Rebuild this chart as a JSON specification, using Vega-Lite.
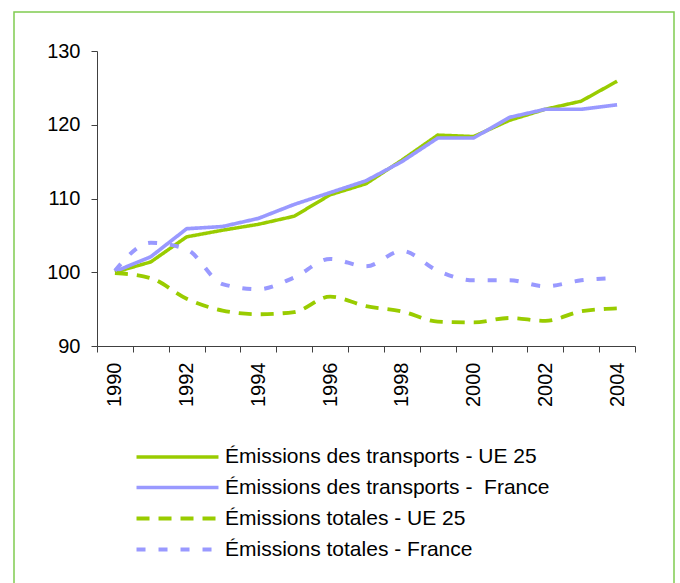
{
  "$schema": "https://vega.github.io/schema/vega-lite/v6.json",
  "autosize": {"type": "none"},
  "width": 660,
  "height": 580,
  "padding": {"left": 14, "top": 12, "right": 6, "bottom": 0},
  "background": "white",
  "config": {
    "view": {"stroke": "#80cc50", "strokeWidth": 1.5},
    "font": "Liberation Sans",
    "axis": {"grid": false, "domainColor": "#404040", "tickColor": "#404040", "labelColor": "black", "labelFont": "Liberation Sans", "labelFontSize": 20, "tickSize": 6, "title": null},
    "legend": {"orient": "none", "legendX": 151, "legendY": 433, "title": null, "symbolType": "M-4,0H4", "symbolSize": 420, "symbolStrokeWidth": 4, "labelFontSize": 21, "labelFont": "Liberation Sans", "labelColor": "black", "labelOffset": 35, "rowPadding": 8, "labelLimit": 500}
  },
  "data": {"values": [
    {"year": 1990, "value": 100.0, "series": "Émissions des transports - UE 25"},
    {"year": 1991, "value": 101.4, "series": "Émissions des transports - UE 25"},
    {"year": 1992, "value": 104.8, "series": "Émissions des transports - UE 25"},
    {"year": 1993, "value": 105.7, "series": "Émissions des transports - UE 25"},
    {"year": 1994, "value": 106.5, "series": "Émissions des transports - UE 25"},
    {"year": 1995, "value": 107.6, "series": "Émissions des transports - UE 25"},
    {"year": 1996, "value": 110.5, "series": "Émissions des transports - UE 25"},
    {"year": 1997, "value": 112.0, "series": "Émissions des transports - UE 25"},
    {"year": 1998, "value": 115.2, "series": "Émissions des transports - UE 25"},
    {"year": 1999, "value": 118.6, "series": "Émissions des transports - UE 25"},
    {"year": 2000, "value": 118.4, "series": "Émissions des transports - UE 25"},
    {"year": 2001, "value": 120.6, "series": "Émissions des transports - UE 25"},
    {"year": 2002, "value": 122.1, "series": "Émissions des transports - UE 25"},
    {"year": 2003, "value": 123.2, "series": "Émissions des transports - UE 25"},
    {"year": 2004, "value": 125.9, "series": "Émissions des transports - UE 25"},
    {"year": 1990, "value": 100.1, "series": "Émissions des transports - \u00a0France"},
    {"year": 1991, "value": 102.1, "series": "Émissions des transports - \u00a0France"},
    {"year": 1992, "value": 105.9, "series": "Émissions des transports - \u00a0France"},
    {"year": 1993, "value": 106.2, "series": "Émissions des transports - \u00a0France"},
    {"year": 1994, "value": 107.3, "series": "Émissions des transports - \u00a0France"},
    {"year": 1995, "value": 109.2, "series": "Émissions des transports - \u00a0France"},
    {"year": 1996, "value": 110.8, "series": "Émissions des transports - \u00a0France"},
    {"year": 1997, "value": 112.4, "series": "Émissions des transports - \u00a0France"},
    {"year": 1998, "value": 115.0, "series": "Émissions des transports - \u00a0France"},
    {"year": 1999, "value": 118.2, "series": "Émissions des transports - \u00a0France"},
    {"year": 2000, "value": 118.2, "series": "Émissions des transports - \u00a0France"},
    {"year": 2001, "value": 121.0, "series": "Émissions des transports - \u00a0France"},
    {"year": 2002, "value": 122.1, "series": "Émissions des transports - \u00a0France"},
    {"year": 2003, "value": 122.1, "series": "Émissions des transports - \u00a0France"},
    {"year": 2004, "value": 122.7, "series": "Émissions des transports - \u00a0France"},
    {"year": 1990, "value": 99.9, "series": "Émissions totales - UE 25"},
    {"year": 1991, "value": 99.2, "series": "Émissions totales - UE 25"},
    {"year": 1992, "value": 96.4, "series": "Émissions totales - UE 25"},
    {"year": 1993, "value": 94.8, "series": "Émissions totales - UE 25"},
    {"year": 1994, "value": 94.3, "series": "Émissions totales - UE 25"},
    {"year": 1995, "value": 94.6, "series": "Émissions totales - UE 25"},
    {"year": 1996, "value": 96.7, "series": "Émissions totales - UE 25"},
    {"year": 1997, "value": 95.4, "series": "Émissions totales - UE 25"},
    {"year": 1998, "value": 94.7, "series": "Émissions totales - UE 25"},
    {"year": 1999, "value": 93.3, "series": "Émissions totales - UE 25"},
    {"year": 2000, "value": 93.2, "series": "Émissions totales - UE 25"},
    {"year": 2001, "value": 93.8, "series": "Émissions totales - UE 25"},
    {"year": 2002, "value": 93.4, "series": "Émissions totales - UE 25"},
    {"year": 2003, "value": 94.7, "series": "Émissions totales - UE 25"},
    {"year": 2004, "value": 95.1, "series": "Émissions totales - UE 25"},
    {"year": 1990, "value": 100.2, "series": "Émissions totales - France"},
    {"year": 1991, "value": 104.0, "series": "Émissions totales - France"},
    {"year": 1992, "value": 103.1, "series": "Émissions totales - France"},
    {"year": 1993, "value": 98.4, "series": "Émissions totales - France"},
    {"year": 1994, "value": 97.7, "series": "Émissions totales - France"},
    {"year": 1995, "value": 99.3, "series": "Émissions totales - France"},
    {"year": 1996, "value": 101.8, "series": "Émissions totales - France"},
    {"year": 1997, "value": 100.8, "series": "Émissions totales - France"},
    {"year": 1998, "value": 102.9, "series": "Émissions totales - France"},
    {"year": 1999, "value": 100.2, "series": "Émissions totales - France"},
    {"year": 2000, "value": 98.9, "series": "Émissions totales - France"},
    {"year": 2001, "value": 98.9, "series": "Émissions totales - France"},
    {"year": 2002, "value": 98.1, "series": "Émissions totales - France"},
    {"year": 2003, "value": 98.9, "series": "Émissions totales - France"},
    {"year": 2004, "value": 99.2, "series": "Émissions totales - France"}
  ]},
  "encoding": {
    "x": {"field": "year", "type": "quantitative",
      "scale": {"domain": [1989.5, 2004.5], "range": [83, 621], "nice": false, "zero": false},
      "axis": {"orient": "bottom", "offset": -246, "values": [1989.5, 1990, 1990.5, 1991, 1991.5, 1992, 1992.5, 1993, 1993.5, 1994, 1994.5, 1995, 1995.5, 1996, 1996.5, 1997, 1997.5, 1998, 1998.5, 1999, 1999.5, 2000, 2000.5, 2001, 2001.5, 2002, 2002.5, 2003, 2003.5, 2004, 2004.5],
        "labelExpr": "datum.value % 2 == 0 ? format(datum.value, 'd') : ''",
        "labelAngle": -90, "labelAlign": "right", "labelBaseline": "middle", "labelPadding": 10, "labelOverlap": false, "labelBound": false, "labelFlush": false,
        "tickOpacity": {"condition": {"test": "datum.value % 1 == 0", "value": 0}, "value": 1}}},
    "y": {"field": "value", "type": "quantitative",
      "scale": {"domain": [90, 130], "range": [334, 39], "nice": false, "zero": false},
      "axis": {"orient": "left", "offset": -83, "values": [90, 100, 110, 120, 130], "labelPadding": 11, "labelFlush": false, "labelOverlap": false}},
    "color": {"field": "series", "type": "nominal",
      "scale": {"domain": ["Émissions des transports - UE 25", "Émissions des transports - \u00a0France", "Émissions totales - UE 25", "Émissions totales - France"], "range": ["#99cc00", "#9999ff", "#99cc00", "#9999ff"]},
      "legend": {}},
    "strokeDash": {"field": "series", "type": "nominal",
      "scale": {"domain": ["Émissions des transports - UE 25", "Émissions des transports - \u00a0France", "Émissions totales - UE 25", "Émissions totales - France"], "range": [[1, 0], [1, 0], [13, 9], [9, 13]]},
      "legend": {}},
    "strokeWidth": {"field": "series", "type": "nominal",
      "scale": {"domain": ["Émissions des transports - UE 25", "Émissions des transports - \u00a0France", "Émissions totales - UE 25", "Émissions totales - France"], "range": [3.5, 4, 3.5, 4.5]},
      "legend": null}
  },
  "layer": [
    {"transform": [{"filter": {"field": "series", "oneOf": ["Émissions des transports - UE 25", "Émissions des transports - \u00a0France"]}}],
     "mark": {"type": "line", "interpolate": "linear"}},
    {"transform": [{"filter": {"field": "series", "oneOf": ["Émissions totales - UE 25", "Émissions totales - France"]}}],
     "mark": {"type": "line", "interpolate": "monotone"}}
  ]
}
